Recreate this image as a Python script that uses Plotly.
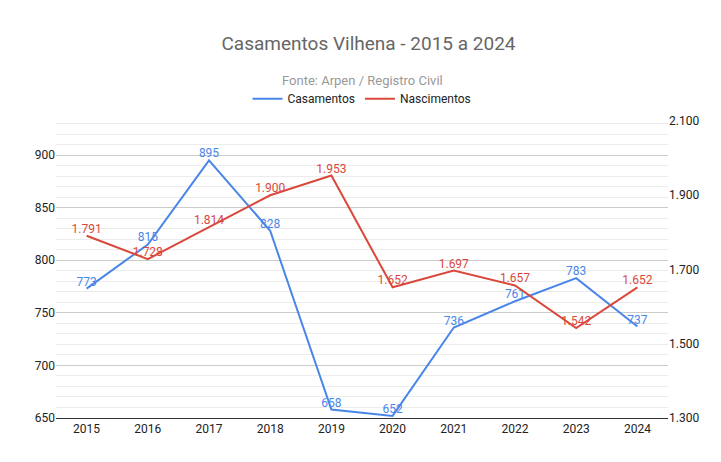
import plotly.graph_objects as go

anos = ["2015","2016","2017","2018","2019","2020","2021","2022","2023","2024"]
casamentos = [773, 815, 895, 828, 658, 652, 736, 761, 783, 737]
nascimentos = [1791, 1728, 1814, 1900, 1953, 1652, 1697, 1657, 1542, 1652]

blue = "#4a86e8"; red = "#d9483b"
fig = go.Figure()
fig.add_trace(go.Scatter(x=anos, y=casamentos, name="Casamentos", mode="lines+text",
    line=dict(color=blue, width=2), text=[str(v) for v in casamentos],
    textposition="top center", textfont=dict(color=blue, size=12), yaxis="y"))
fig.add_trace(go.Scatter(x=anos, y=nascimentos, name="Nascimentos", mode="lines+text",
    line=dict(color=red, width=2), text=[f"{v:,}".replace(",", ".") for v in nascimentos],
    textposition="top center", textfont=dict(color=red, size=12), yaxis="y2"))

fig.update_layout(
    width=721, height=462, plot_bgcolor="white", paper_bgcolor="white",
    font=dict(family="Roboto", color="#222", size=12),
    separators=",.",
    title=dict(text="Casamentos Vilhena - 2015 a 2024",
               x=0.5, y=0.923, yanchor="middle", xanchor="center", font=dict(size=19, color="#666")),
    annotations=[dict(text="Fonte: Arpen / Registro Civil", x=0.5, xref="paper", y=63, yref="paper",
                      showarrow=False, font=dict(size=13, color="#999"))],
    legend=dict(orientation="h", x=0.5, xanchor="center", y=1.075, yanchor="middle", font=dict(size=12)),
    margin=dict(l=48, r=61, t=113, b=52),
    xaxis=dict(showgrid=False, showline=True, linecolor="#333", ticks="", tickfont=dict(size=12)),
    yaxis=dict(range=[650, 932.4], tickvals=[650,700,750,800,850,900], gridcolor="#cccccc",
               minor=dict(dtick=10, showgrid=True, gridcolor="#ececec"), zeroline=False,
               tickfont=dict(size=12)),
    yaxis2=dict(range=[1300, 2100], overlaying="y", side="right", tickvals=[1300,1500,1700,1900,2100],
                tickformat=",d", showgrid=False, zeroline=False, tickfont=dict(size=12)),
)
# place subtitle in paper coords (plot spans 113..410 px)
fig.layout.annotations[0].y = 1 + (113 - 63) / 297
fig.write_html("out.html")
